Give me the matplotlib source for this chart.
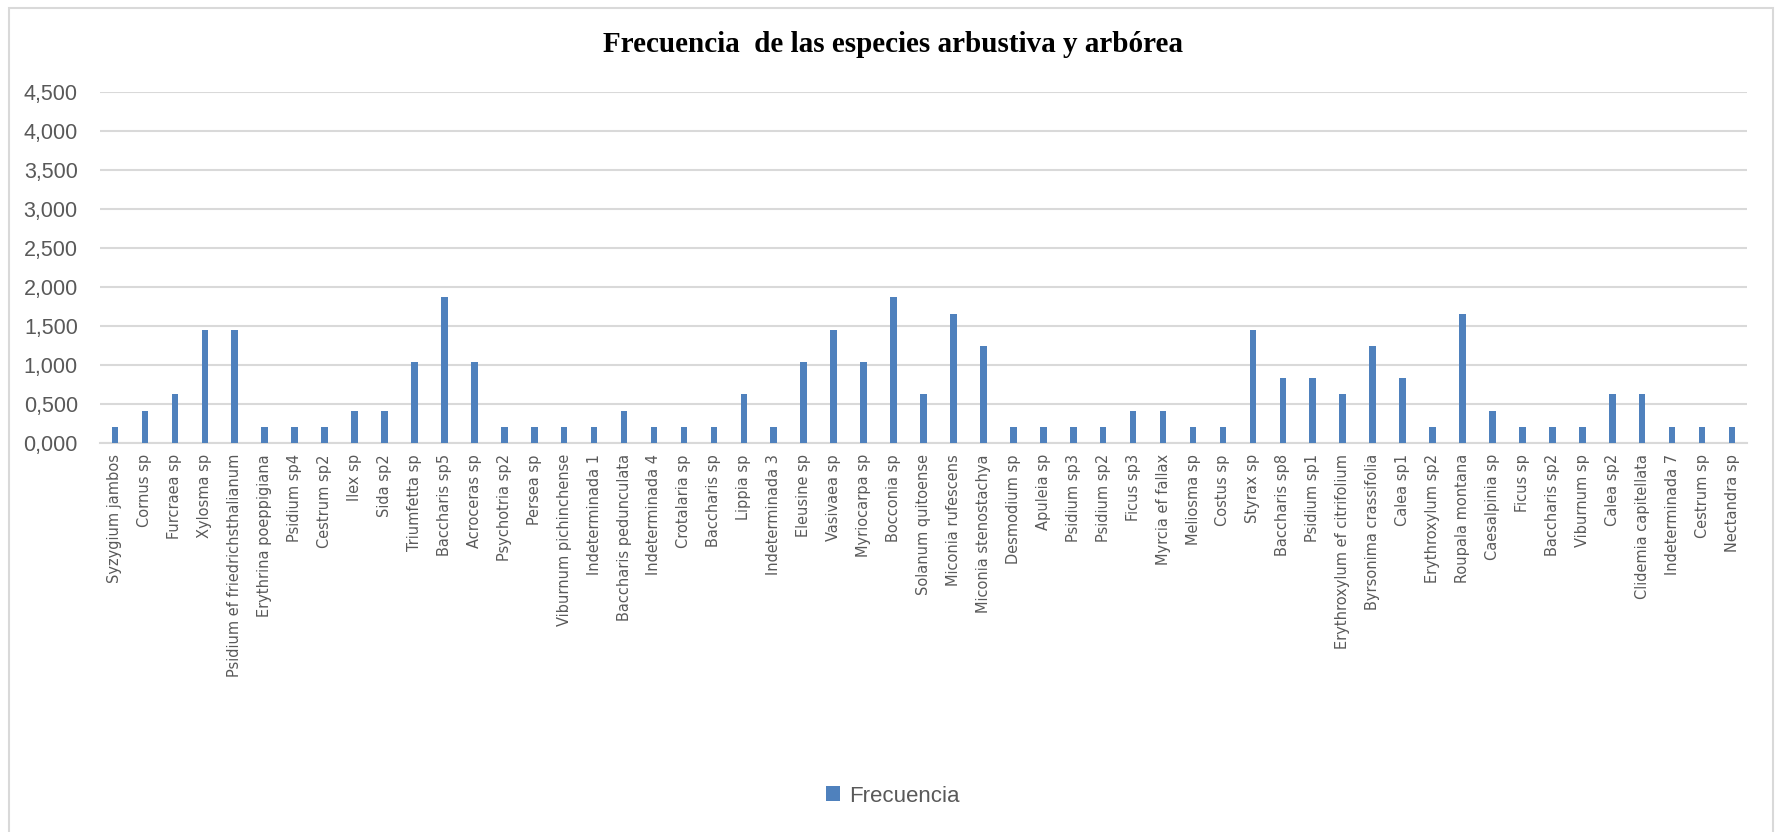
import numpy as np
import matplotlib.pyplot as plt
from matplotlib.patches import Rectangle
from matplotlib.ticker import FuncFormatter

especies = ["Syzygium jambos", "Cornus sp", "Furcraea sp", "Xylosma sp",
            "Psidium ef friedrichsthalianum", "Erythrina poeppigiana", "Psidium sp4",
            "Cestrum sp2", "Ilex sp", "Sida sp2", "Triumfetta sp", "Baccharis sp5",
            "Acroceras sp", "Psychotria sp2", "Persea sp", "Viburnum pichinchense",
            "Indeterminada 1", "Baccharis pedunculata", "Indeterminada 4",
            "Crotalaria sp", "Baccharis sp", "Lippia sp", "Indeterminada 3",
            "Eleusine sp", "Vasivaea sp", "Myriocarpa sp", "Bocconia sp",
            "Solanum quitoense", "Miconia rufescens", "Miconia stenostachya",
            "Desmodium sp", "Apuleia sp", "Psidium sp3", "Psidium sp2", "Ficus sp3",
            "Myrcia ef fallax", "Meliosma sp", "Costus sp", "Styrax sp",
            "Baccharis sp8", "Psidium sp1", "Erythroxylum ef citrifolium",
            "Byrsonima crassifolia", "Calea sp1", "Erythroxylum sp2",
            "Roupala montana", "Caesalpinia sp", "Ficus sp", "Baccharis sp2",
            "Viburnum sp", "Calea sp2", "Clidemia capitellata", "Indeterminada 7",
            "Cestrum sp", "Nectandra sp"]

frecuencia = [0.207, 0.415, 0.622, 1.452, 1.452, 0.207, 0.207, 0.207, 0.415, 0.415,
              1.037, 1.867, 1.037, 0.207, 0.207, 0.207, 0.207, 0.415, 0.207, 0.207,
              0.207, 0.622, 0.207, 1.037, 1.452, 1.037, 1.867, 0.622, 1.660, 1.245,
              0.207, 0.207, 0.207, 0.207, 0.415, 0.415, 0.207, 0.207, 1.452, 0.830,
              0.830, 0.622, 1.245, 0.830, 0.207, 1.660, 0.415, 0.207, 0.207, 0.207,
              0.622, 0.622, 0.207, 0.207, 0.207]

azul = "#4F81BD"
gris = "#595959"
rejilla = "#D9D9D9"
narrow = ["Liberation Sans Narrow", "Liberation Sans"]

fig = plt.figure(figsize=(17.85, 8.32), dpi=100)
ax = fig.add_axes([100 / 1785, 1 - 443 / 832, (1747 - 100) / 1785, (443 - 92) / 832])

x = np.arange(len(especies))
ax.bar(x, frecuencia, width=0.22, color=azul, label="Frecuencia", zorder=3)

ax.set_ylim(0, 4.5)
ax.set_xlim(-0.5, len(especies) - 0.5)
ax.set_yticks(np.arange(0, 4.51, 0.5))
ax.yaxis.set_major_formatter(FuncFormatter(lambda v, p: f"{v:.3f}".replace(".", ",")))
ax.grid(axis="y", color=rejilla, linewidth=1.5, zorder=0)
for s in ["top", "right", "left"]:
    ax.spines[s].set_visible(False)
ax.spines["bottom"].set_color(rejilla)
ax.spines["bottom"].set_linewidth(1.5)
ax.tick_params(axis="both", length=0)
ax.tick_params(axis="y", labelsize=15.5, labelcolor=gris, pad=16)
for t in ax.get_yticklabels():
    t.set_family(narrow)

ax.set_xticks(x)
ax.set_xticklabels(especies, rotation=90, fontsize=11.7, color=gris,
                   family="DejaVu Sans", fontstretch="condensed")
ax.tick_params(axis="x", pad=8)

fig.text(0.5, 1 - 45 / 832, "Frecuencia  de las especies arbustiva y arbórea",
         ha="center", va="center", fontsize=21, fontweight="bold",
         family="Liberation Serif")

leg = fig.legend(loc="center", bbox_to_anchor=(0.5, 1 - 796 / 832), frameon=False,
                 handlelength=0.65, handleheight=0.65, handletextpad=0.4,
                 prop={"family": narrow, "size": 16})
for t in leg.get_texts():
    t.set_color(gris)

fig.patches.append(Rectangle((9 / 1785, -0.02), (1773 - 9) / 1785, 1.02 - 8 / 832,
                             transform=fig.transFigure, fill=False,
                             edgecolor=rejilla, linewidth=1.5))

fig.savefig("out.png", dpi=100, facecolor="white")
